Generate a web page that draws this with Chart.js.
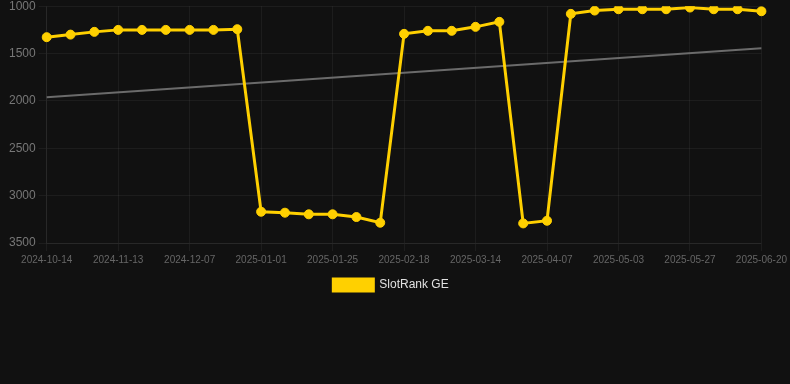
<!DOCTYPE html>
<html>
<head>
<meta charset="utf-8">
<script src="https://cdn.jsdelivr.net/npm/chart.js@4/dist/chart.umd.min.js"></script>
<style>
    html, body { margin: 0; padding: 0; background: #111111; overflow: hidden; }
    #wrap { position: relative; top: -4px; width: 790px; height: 305px; }
</style>
</head>
<body>
<div id="wrap"><canvas id="rankChart"></canvas></div>
<script>
// dates on the x axis (every third one is shown)
const dates = [
    "2024-10-14", "2024-10-24", "2024-11-03", "2024-11-13", "2024-11-21", "2024-11-29",
    "2024-12-07", "2024-12-15", "2024-12-23", "2025-01-01", "2025-01-09", "2025-01-17",
    "2025-01-25", "2025-02-02", "2025-02-10", "2025-02-18", "2025-02-26", "2025-03-06",
    "2025-03-14", "2025-03-22", "2025-03-30", "2025-04-07", "2025-04-15", "2025-04-24",
    "2025-05-03", "2025-05-11", "2025-05-19", "2025-05-27", "2025-06-04", "2025-06-12",
    "2025-06-20"
];

// SlotRank GE, lower is better (axis is reversed)
const rankGE = [
    1327, 1300, 1271, 1250, 1250, 1250, 1250, 1250, 1243,
    3170, 3180, 3197, 3197, 3226, 3286,
    1292, 1260, 1260, 1218, 1165,
    3293, 3265,
    1081, 1046, 1032, 1032, 1032, 1014, 1032, 1032, 1053
];

// trend line: only its two ends are known
const trendStart = 1960;
const trendEnd = 1443;
const trend = dates.map((d, i) => i === 0 ? trendStart : (i === dates.length - 1 ? trendEnd : null));

const yTicks = [1000, 1500, 2000, 2500, 3000, 3500];

const fontFamily = "Arial, 'Liberation Sans', sans-serif";
const gridColor = 'rgba(255, 255, 255, 0.05)';

// nudge the legend a little to the left
const legendNudge = {
    id: 'legendNudge',
    afterLayout(chart) {
        if (chart.legend) {
            chart.legend.right -= 12;
        }
    }
};

const ctx = document.querySelector('#rankChart').getContext('2d');

new Chart(ctx, {
    type: 'line',
    data: {
        labels: dates,
        datasets: [
            {
                label: 'SlotRank GE',
                data: rankGE,
                borderColor: '#FFD000',
                backgroundColor: '#FFD000',
                borderWidth: 3,
                pointRadius: 4.5,
                pointBorderWidth: 1,
                pointBackgroundColor: '#FFD000',
                tension: 0
            },
            {
                label: 'Trend',
                data: trend,
                borderColor: '#6b6b6b',
                borderWidth: 2,
                pointRadius: 0,
                spanGaps: true
            }
        ]
    },
    options: {
        responsive: true,
        maintainAspectRatio: false,
        animation: false,
        layout: {
            padding: { left: 6, right: 2, top: 0, bottom: 0 }
        },
        scales: {
            x: {
                grid: { color: gridColor },
                border: { color: gridColor },
                ticks: {
                    color: '#666666',
                    font: { family: fontFamily, size: 10 },
                    maxRotation: 0,
                    autoSkip: true,
                    autoSkipPadding: 20
                }
            },
            y: {
                reverse: true,
                min: yTicks[0],
                max: yTicks[yTicks.length - 1],
                grid: { color: gridColor },
                border: { color: gridColor },
                afterBuildTicks: axis => {
                    axis.ticks = yTicks.map(v => ({ value: v }));
                },
                ticks: {
                    color: '#777777',
                    font: { family: fontFamily, size: 12 },
                    callback: value => String(value)
                }
            }
        },
        plugins: {
            legend: {
                position: 'bottom',
                labels: {
                    color: '#e0e0e0',
                    font: { family: fontFamily, size: 12 },
                    boxWidth: 40,
                    boxHeight: 12,
                    filter: item => item.text === 'SlotRank GE'
                }
            },
            tooltip: { enabled: false }
        }
    },
    plugins: [legendNudge]
});
</script>
</body>
</html>
